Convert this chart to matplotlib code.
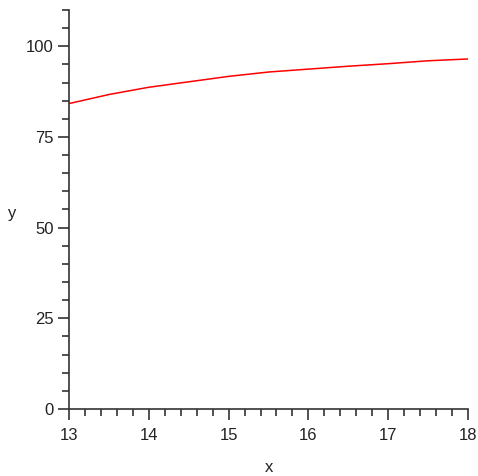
import matplotlib
matplotlib.use("Agg")
import matplotlib.pyplot as plt
from matplotlib.ticker import MultipleLocator

plt.rcParams["font.family"] = ["Liberation Sans", "DejaVu Sans"]

# values
x_vals = [13.0, 13.5, 14.0, 14.5, 15.0, 15.5, 16.0, 16.5, 17.0, 17.5, 18.0]
y_vals = [84.2, 86.7, 88.7, 90.2, 91.7, 92.9, 93.7, 94.5, 95.2, 96.0, 96.5]

x_ticks = [13, 14, 15, 16, 17, 18]
y_ticks = [0, 25, 50, 75, 100]

fig = plt.figure(figsize=(4.78, 4.76), dpi=100)
ax = fig.add_axes([0.1444, 0.1408, 0.8347, 0.8382])

ax.plot(x_vals, y_vals, color="#ff0000", linewidth=1.1)

ax.set_xlim(13, 18)
ax.set_ylim(0, 110)
ax.set_xticks(x_ticks)
ax.set_yticks(y_ticks)
ax.xaxis.set_minor_locator(MultipleLocator(0.2))
ax.yaxis.set_minor_locator(MultipleLocator(5))

for side in ["top", "right"]:
    ax.spines[side].set_visible(False)
for side in ["left", "bottom"]:
    ax.spines[side].set_color("#333333")
    ax.spines[side].set_linewidth(1.2)

ax.tick_params(which="major", length=8, width=1.2, color="#333333",
               labelsize=12, labelcolor="#222222")
ax.tick_params(axis="x", which="major", pad=6)
ax.tick_params(axis="y", which="major", pad=3)
ax.tick_params(which="minor", length=5, width=1.2, color="#333333")

ax.set_xlabel("x", fontsize=12, color="#222222", va="center")
ax.set_ylabel("y", fontsize=12, color="#222222", rotation=0, va="center", ha="center")
ax.yaxis.set_label_coords(-0.142, 0.491)
ax.xaxis.set_label_coords(0.50, -0.147)

fig.savefig("out.png", dpi=100)
